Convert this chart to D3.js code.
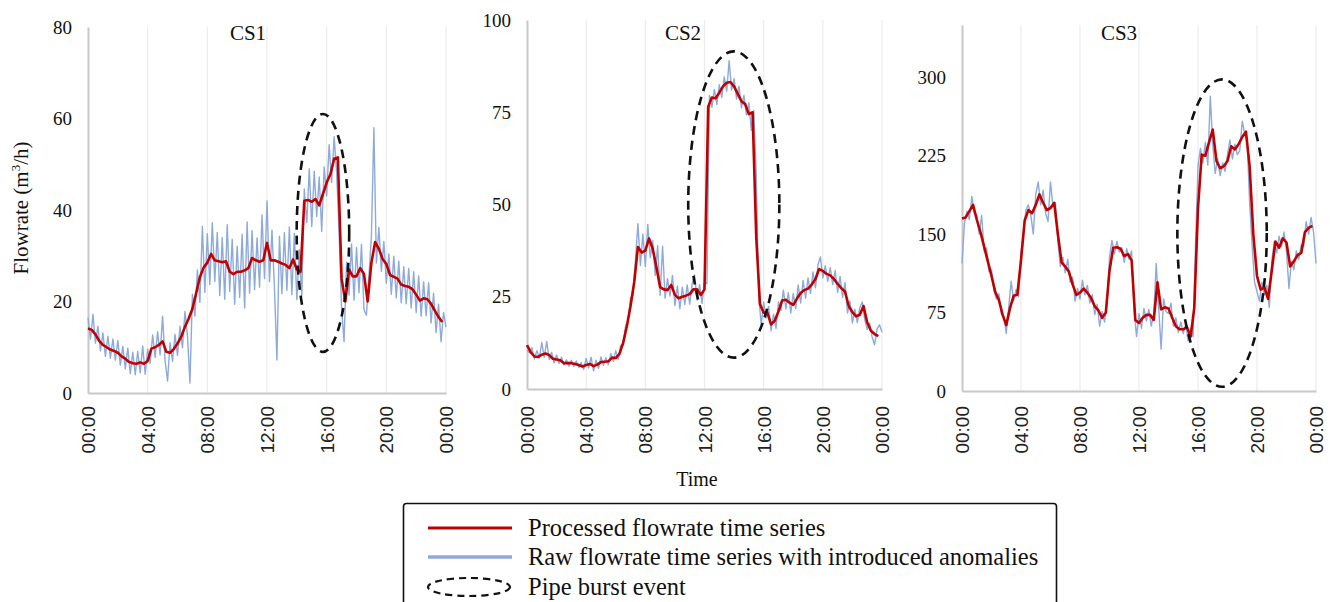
<!DOCTYPE html>
<html>
<head>
<meta charset="utf-8">
<script src="https://cdn.jsdelivr.net/npm/d3@7"></script>
<style>
  html, body { margin: 0; padding: 0; background: #ffffff; }
  svg { display: block; }
  .serif { font-family: "Liberation Serif", "Times New Roman", serif; fill: #111; }
  .sans { font-family: "Liberation Sans", Arial, sans-serif; fill: #222; }
</style>
</head>
<body>
<script>
// ---- Data -------------------------------------------------------------
// Time axis labels (hours 0..24, every 4 h)
const timeTicks = [0, 4, 8, 12, 16, 20, 24];
const timeTickLabels = ["00:00", "04:00", "08:00", "12:00", "16:00", "20:00", "00:00"];

// Flowrate axis ticks per case study
const cs1Ticks = [0, 20, 40, 60, 80];
const cs2Ticks = [0, 25, 50, 75, 100];
const cs3Ticks = [0, 75, 150, 225, 300];
const cs1Max = 80, cs2Max = 100, cs3Max = 350;

// Raw flowrate (m3/h), 10-minute samples from 00:00 to 24:00 (one row per hour)
const cs1Raw = [
  16.5, 11.8, 17.2, 10.9, 14.6, 9.2,
  13.1, 8.0, 12.4, 7.6, 11.8, 7.2,
  11.5, 6.1, 10.2, 5.3, 9.8, 4.2,
  8.9, 4.0, 9.1, 4.4, 10.3, 4.1,
  9.6, 6.5, 12.7, 7.8, 13.4, 8.3,
  16.8, 7.1, 2.6, 11.0, 6.9, 12.8,
  8.2, 14.6, 9.9, 17.8, 12.6, 2.2,
  21.6, 16.8, 26.9, 19.8, 36.4, 22.0,
  34.8, 23.7, 37.2, 24.4, 35.1, 21.3,
  34.0, 20.5, 36.8, 22.2, 33.6, 19.4,
  32.1, 20.9, 34.7, 18.6, 37.4, 21.8,
  35.5, 22.6, 33.9, 23.1, 38.9, 25.0,
  42.0, 24.3, 35.6, 22.9, 7.2, 34.3,
  21.7, 35.1, 22.4, 36.3, 21.5, 34.9,
  20.4, 31.3, 21.2, 44.6, 37.2, 49.0,
  36.4, 48.5, 38.6, 47.2, 35.3, 49.4,
  43.1, 54.3, 46.0, 56.0, 48.2, 35.0,
  18.5, 11.2, 28.6, 21.4, 32.6, 20.3,
  31.8, 21.9, 32.5, 18.2, 17.0, 25.6,
  34.3, 58.0, 28.4, 36.2, 26.6, 33.1,
  24.0, 30.4, 21.6, 29.9, 20.8, 28.8,
  19.7, 27.6, 19.5, 27.2, 18.6, 26.5,
  17.6, 25.6, 16.8, 24.3, 16.9, 24.1,
  15.3, 21.8, 13.2, 19.4, 11.2, 17.6,
  14.4
];
const cs2Raw = [
  10.5, 9.8, 11.2, 8.1, 10.4, 8.4,
  12.6, 8.6, 12.9, 8.0, 9.9, 7.1,
  9.2, 6.9, 8.6, 6.5, 7.9, 6.2,
  7.8, 6.1, 7.6, 5.8, 7.2, 5.3,
  8.3, 5.7, 8.6, 4.9, 7.8, 5.6,
  8.7, 6.4, 8.5, 6.6, 9.6, 7.5,
  10.4, 8.0, 11.9, 11.8, 17.2, 18.3,
  24.8, 25.3, 35.0, 44.8, 33.5, 42.0,
  33.2, 44.6, 35.6, 40.2, 30.8, 38.9,
  25.4, 38.7, 24.6, 29.9, 25.2, 30.8,
  22.6, 27.9, 21.8, 27.6, 22.9, 28.2,
  23.0, 28.6, 30.9, 24.1, 28.3, 23.2,
  29.1, 28.5, 79.6, 76.4, 81.2, 77.1,
  82.5, 79.0, 84.6, 80.7, 89.0, 81.0,
  84.1, 78.6, 82.0, 76.2, 79.6, 74.3,
  77.5, 70.1, 75.5, 58.0, 25.2, 17.4,
  23.5, 19.2, 22.4, 15.8, 20.3, 16.4,
  23.6, 21.3, 26.8, 21.7, 26.1, 20.6,
  25.9, 21.8, 28.2, 23.3, 29.4, 24.6,
  30.1, 25.9, 31.7, 27.4, 33.6, 35.8,
  30.1, 33.4, 29.2, 32.9, 28.3, 32.1,
  26.2, 30.5, 24.8, 28.9, 20.6, 23.8,
  17.9, 21.6, 18.0, 22.1, 23.6, 18.8,
  16.2, 17.9, 14.1, 12.0, 16.3, 17.4,
  15.4
];
const cs3Raw = [
  122, 160, 172, 164, 186, 170,
  168, 150, 168, 134, 137, 114,
  116, 96, 88, 93, 74, 71,
  55, 80, 105, 86, 97, 90,
  132, 152, 173, 178, 168, 150,
  188, 200, 178, 192, 170, 162,
  200, 176, 180, 143, 119, 128,
  113, 126, 104, 109, 86, 98,
  88, 106, 92, 101, 84, 92,
  73, 83, 62, 76, 66, 84,
  128, 144, 131, 143, 133, 137,
  123, 136, 126, 134, 78, 52,
  74, 60, 79, 67, 78, 62,
  74, 122, 80, 40, 88, 76,
  74, 84, 62, 70, 56, 66,
  55, 64, 48, 60, 52, 140,
  215, 232, 218, 238, 216, 282,
  236, 208, 222, 206, 218, 210,
  226, 240, 222, 236, 226, 230,
  258, 246, 238, 180, 140, 104,
  95, 86, 104, 92, 101, 80,
  124, 143, 132, 148, 138, 152,
  134, 98, 124, 116, 134, 126,
  140, 138, 162, 150, 166, 152,
  122
];

// Processed flowrate (m3/h), 15-minute samples from 00:00 to 23:45 (one row per hour)
const cs1Processed = [
  14.1, 13.8, 12.8, 11.4,
  10.5, 10.0, 9.5, 9.2,
  8.8, 8.0, 7.5, 6.8,
  6.5, 6.4, 6.7, 6.4,
  7.0, 9.7, 10.0, 10.5,
  11.3, 9.0, 8.8, 9.6,
  10.8, 12.3, 14.5, 16.3,
  18.4, 21.8, 25.3, 27.4,
  28.5, 30.4, 29.0, 28.8,
  28.6, 28.8, 26.5, 26.0,
  26.5, 26.5, 26.8, 27.3,
  29.5, 29.0, 28.7, 29.0,
  32.8, 29.0, 29.0, 28.7,
  28.3, 28.0, 27.3, 29.2,
  27.0, 26.5, 42.0, 42.2,
  41.8, 42.4, 41.0, 43.5,
  46.0, 47.8, 51.2, 51.5,
  25.0, 20.0, 27.0, 25.5,
  25.5, 27.3, 26.0, 20.0,
  28.5, 33.0, 31.5, 29.3,
  28.2, 25.8, 25.4, 25.0,
  23.7, 23.4, 23.2, 22.7,
  21.5, 20.2, 20.7, 20.5,
  19.5, 18.0, 16.6, 15.5
];
const cs2Processed = [
  11.9, 10.0, 8.8, 8.7,
  9.3, 9.6, 9.2, 8.2,
  8.0, 7.8, 7.0, 7.0,
  7.0, 6.8, 6.5, 6.1,
  6.5, 6.8, 6.2, 6.6,
  7.3, 7.4, 7.5, 8.5,
  8.4, 9.5, 12.5, 17.0,
  22.5, 29.0, 38.5, 37.0,
  37.5, 40.8, 38.0, 33.0,
  27.6, 27.0, 26.8, 28.2,
  25.5, 24.6, 25.0, 25.3,
  25.7, 27.0, 27.0, 25.5,
  27.0, 76.5, 79.0, 78.8,
  80.3, 82.0, 83.0, 83.2,
  82.0, 80.0, 78.0, 77.2,
  74.5, 75.0, 41.0, 23.0,
  20.7, 20.7, 17.5, 18.5,
  21.0, 24.0, 24.2, 23.4,
  22.8, 24.5, 26.0, 26.8,
  27.2, 28.3, 29.8, 32.5,
  32.0, 31.2, 30.8, 29.8,
  28.5, 27.3, 26.4, 22.5,
  20.8, 19.7, 20.1, 22.5,
  18.0, 15.8, 14.9, 14.3
];
const cs3Processed = [
  165, 166, 172, 178,
  164, 152, 138, 124,
  110, 95, 87, 73,
  63, 79, 91, 92,
  125, 163, 173, 170,
  178, 188, 180, 173,
  175, 180, 150, 123,
  119, 114, 102, 92,
  94, 98, 94, 89,
  81, 77, 70, 75,
  115, 137, 137.5, 136,
  129, 131, 125, 68,
  65, 70, 72.8, 72.8,
  68, 104, 78, 80,
  79, 70, 62, 59,
  59, 61, 52, 80,
  175, 226, 225, 238,
  250, 220, 213, 215,
  220, 234, 231, 236,
  243, 248, 215, 150,
  110, 97, 99, 88,
  115, 143, 137, 146,
  142, 119, 124, 130,
  132, 152, 156, 158
];

// Pipe burst events: [centre hour, centre flowrate, half-span in hours, half-span in flowrate]
const cs1Burst = [15.75, 35, 1.76, 26];
const cs2Burst = [13.98, 50, 3.08, 41.5];
const cs3Burst = [17.63, 151, 3.03, 147];

const panelNames = ["CS1", "CS2", "CS3"];
const legendLabels = [
  "Processed flowrate time series",
  "Raw flowrate time series with introduced anomalies",
  "Pipe burst event"
];
const axisTitleY = "Flowrate (m";
const axisTitleX = "Time";

// ---- Layout & style ---------------------------------------------------
const W = 1330, H = 602;
const RED = "#c00000", BLUE = "#8eaadb";

const panels = [
  { name: panelNames[0], raw: cs1Raw, proc: cs1Processed, ticks: cs1Ticks, max: cs1Max, burst: cs1Burst,
    left: 88, right: 446, top: 27, bottom: 393, titleX: 248 },
  { name: panelNames[1], raw: cs2Raw, proc: cs2Processed, ticks: cs2Ticks, max: cs2Max, burst: cs2Burst,
    left: 527, right: 882, top: 20, bottom: 389, titleX: 683 },
  { name: panelNames[2], raw: cs3Raw, proc: cs3Processed, ticks: cs3Ticks, max: cs3Max, burst: cs3Burst,
    left: 962, right: 1316, top: 25, bottom: 391, titleX: 1119 }
];

const svg = d3.select("body").append("svg")
  .attr("width", W).attr("height", H)
  .attr("viewBox", `0 0 ${W} ${H}`);

panels.forEach(p => {
  const x = d3.scaleLinear().domain([0, 24]).range([p.left, p.right]);
  const y = d3.scaleLinear().domain([0, p.max]).range([p.bottom, p.top]);
  const g = svg.append("g");

  // vertical gridlines at every 4 hours
  g.append("g").selectAll("line")
    .data(timeTicks.slice(1))
    .join("line")
    .attr("x1", d => x(d)).attr("x2", d => x(d))
    .attr("y1", p.top).attr("y2", p.bottom)
    .attr("stroke", "#ececec").attr("stroke-width", 1.2);

  // y axis: labels only, gray spine
  const yAxis = d3.axisLeft(y).tickValues(p.ticks).tickSize(0).tickPadding(16);
  const ya = g.append("g").attr("transform", `translate(${p.left},0)`).call(yAxis);
  ya.select(".domain").attr("stroke", "#c8c8c8").attr("stroke-width", 2);
  ya.selectAll("text").attr("class", "serif").attr("font-size", 19).attr("fill", "#111")
    .attr("font-family", null);

  // x axis: rotated time labels
  const xAxis = d3.axisBottom(x).tickValues(timeTicks)
    .tickFormat((d, i) => timeTickLabels[i]).tickSize(0);
  const xa = g.append("g").attr("transform", `translate(0,${p.bottom})`).call(xAxis);
  xa.select(".domain").attr("stroke", "#c8c8c8").attr("stroke-width", 2);
  xa.selectAll("text")
    .attr("class", "sans").attr("font-family", null)
    .attr("font-size", 19).attr("fill", "#222")
    .attr("transform", "rotate(-90)")
    .attr("text-anchor", "end")
    .attr("dy", "0.35em")
    .attr("x", -(406 - p.bottom))
    .attr("y", 0);

  // raw series (10-min samples)
  const rawLine = d3.line().x((d, i) => x(i / 6)).y(d => y(d));
  g.append("path").datum(p.raw)
    .attr("d", rawLine)
    .attr("fill", "none").attr("stroke", BLUE)
    .attr("stroke-width", 1.4).attr("stroke-linejoin", "round");

  // processed series (15-min samples)
  const procLine = d3.line().x((d, i) => x(i / 4)).y(d => y(d));
  g.append("path").datum(p.proc)
    .attr("d", procLine)
    .attr("fill", "none").attr("stroke", RED)
    .attr("stroke-width", 2.6).attr("stroke-linejoin", "round");

  // pipe burst event
  const [ch, cv, dh, dv] = p.burst;
  g.append("ellipse")
    .attr("cx", x(ch)).attr("cy", y(cv))
    .attr("rx", x(ch + dh) - x(ch)).attr("ry", y(cv - dv) - y(cv))
    .attr("fill", "none").attr("stroke", "#111")
    .attr("stroke-width", 2.6).attr("stroke-dasharray", "9,6");

  // panel title
  g.append("text").attr("class", "serif")
    .attr("x", p.titleX).attr("y", 40)
    .attr("text-anchor", "middle").attr("font-size", 21)
    .text(p.name);
});

// y-axis title with superscript
const yt = svg.append("text").attr("class", "serif")
  .attr("transform", "translate(28,208) rotate(-90)")
  .attr("text-anchor", "middle").attr("font-size", 21);
yt.append("tspan").text(axisTitleY);
yt.append("tspan").attr("font-size", 13).attr("dy", -8).text("3");
yt.append("tspan").attr("dy", 8).text("/h)");

// x-axis title
svg.append("text").attr("class", "serif")
  .attr("x", 697).attr("y", 486)
  .attr("text-anchor", "middle").attr("font-size", 20)
  .text(axisTitleX);

// legend
const lg = svg.append("g");
lg.append("rect")
  .attr("x", 403.5).attr("y", 503.5).attr("width", 653).attr("height", 120)
  .attr("rx", 3).attr("fill", "#fff").attr("stroke", "#111").attr("stroke-width", 1.6);
const rowY = [528, 557, 587];
lg.append("line").attr("x1", 428).attr("x2", 512).attr("y1", rowY[0]).attr("y2", rowY[0])
  .attr("stroke", RED).attr("stroke-width", 3);
lg.append("line").attr("x1", 428).attr("x2", 512).attr("y1", rowY[1]).attr("y2", rowY[1])
  .attr("stroke", BLUE).attr("stroke-width", 3.5);
lg.append("ellipse").attr("cx", 469).attr("cy", rowY[2]).attr("rx", 41).attr("ry", 9)
  .attr("fill", "none").attr("stroke", "#111").attr("stroke-width", 2.2)
  .attr("stroke-dasharray", "7,5");
lg.selectAll("text.lbl").data(legendLabels).join("text")
  .attr("class", "serif lbl")
  .attr("x", 528).attr("y", (d, i) => rowY[i] + 8)
  .attr("font-size", 24.5)
  .text(d => d);
</script>
</body>
</html>
